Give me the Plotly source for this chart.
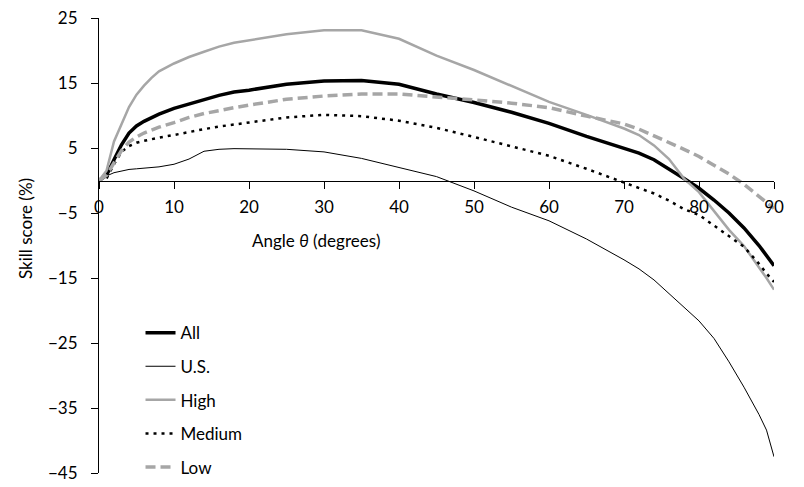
import plotly.graph_objects as go

# angle grid (degrees) shared by all series
angles = [0, 1, 2, 3, 4, 5, 6, 7, 8, 10, 12, 14, 16, 18, 20, 25, 30, 35, 40, 45,
          50, 55, 60, 65, 70, 72, 74, 76, 78, 80, 82, 84, 86, 88, 89, 90]

# skill score (%)
all_ss = [0, 0.8, 3.2, 5.5, 7.3, 8.4, 9.1, 9.7, 10.2, 11.1, 11.8, 12.5, 13.1, 13.6, 13.9, 14.8, 15.3, 15.4, 14.8, 13.3,
          12.0, 10.5, 8.8, 6.8, 5.0, 4.2, 3.2, 1.8, 0.3, -1.2, -3.0, -5.0, -7.3, -10.0, -11.5, -13.1]
us_ss = [0, 0.7, 1.2, 1.5, 1.7, 1.8, 1.9, 2.0, 2.1, 2.5, 3.3, 4.5, 4.8, 4.9, 4.9, 4.8, 4.4, 3.4, 2.0, 0.6,
         -1.6, -4.1, -6.2, -9.0, -12.2, -13.6, -15.3, -17.4, -19.5, -21.6, -24.3, -27.9, -31.8, -36.0, -38.4, -42.5]
high_ss = [0, 1.5, 6.0, 8.8, 11.3, 13.2, 14.6, 15.8, 16.8, 18.0, 19.0, 19.8, 20.6, 21.2, 21.6, 22.5, 23.1, 23.1, 21.8, 19.2,
           17.0, 14.6, 12.1, 10.1, 8.0, 7.0, 5.4, 3.3, 0.3, -1.8, -4.7, -7.6, -10.1, -13.3, -15.0, -16.8]
medium_ss = [0, 0.3, 2.5, 4.4, 5.3, 5.8, 6.1, 6.4, 6.6, 7.0, 7.5, 7.9, 8.3, 8.6, 8.9, 9.7, 10.1, 9.9, 9.2, 8.1,
             6.7, 5.3, 3.8, 1.8, -0.3, -1.1, -2.0, -3.1, -4.4, -5.3, -6.9, -8.5, -10.2, -12.8, -14.3, -15.6]
low_ss = [0, 0.8, 2.7, 4.6, 5.9, 6.7, 7.3, 7.8, 8.2, 8.9, 9.7, 10.3, 10.8, 11.2, 11.6, 12.5, 13.0, 13.3, 13.3, 12.9,
          12.4, 11.9, 11.2, 9.9, 8.7, 7.9, 6.9, 5.9, 4.8, 3.7, 2.3, 1.0, -0.6, -2.5, -3.4, -4.3]

gray = "#A6A6A6"
font = "Lato, 'Open Sans', sans-serif"

series = [
    ("All", all_ss, dict(color="black", width=3.5)),
    ("U.S.", us_ss, dict(color="black", width=1)),
    ("High", high_ss, dict(color=gray, width=2.5)),
    ("Medium", medium_ss, dict(color="black", width=2.5, dash="3px,5px")),
    ("Low", low_ss, dict(color=gray, width=3.5, dash="10px,5px")),
]

fig = go.Figure()
for name, vals, line in series:
    fig.add_trace(go.Scatter(x=angles, y=vals, name=name, mode="lines",
                             line=line, legendgroup=name))

# page has an 8px body margin, so the figure is drawn 8px smaller
fig.update_layout(
    width=796, height=479,
    margin=dict(l=91, r=30, t=10, b=14, autoexpand=False),
    paper_bgcolor="white", plot_bgcolor="white",
    font=dict(family=font, size=17, color="black"),
    showlegend=True,
    legend=dict(x=0.0615, y=0.347, xanchor="left", yanchor="top",
                bgcolor="rgba(0,0,0,0)", tracegroupgap=8.5,
                font=dict(size=17)),
    xaxis=dict(range=[0, 90], dtick=10, tick0=0, showgrid=False, zeroline=False,
               showline=True, linecolor="black", linewidth=1,
               ticks="outside", ticklen=7, tickcolor="black",
               anchor="free", position=45 / 70, ticklabelstandoff=4),
    yaxis=dict(range=[-45, 25], dtick=10, tick0=5, showgrid=False, zeroline=False,
               showline=True, linecolor="black", linewidth=1,
               ticks="outside", ticklen=7, tickcolor="black", ticklabelstandoff=10,
               ticklabeloverflow="allow"),
    annotations=[
        dict(text="Skill score (%)", x=-0.110, y=0.538, xref="paper", yref="paper",
             textangle=-90, showarrow=False, xanchor="center", yanchor="middle",
             font=dict(size=17)),
        dict(text="Angle <i>θ</i> (degrees)", x=0.3225, y=0.512, xref="paper", yref="paper",
             showarrow=False, xanchor="center", yanchor="middle", font=dict(size=17)),
    ],
)

fig.write_html("out.html")
